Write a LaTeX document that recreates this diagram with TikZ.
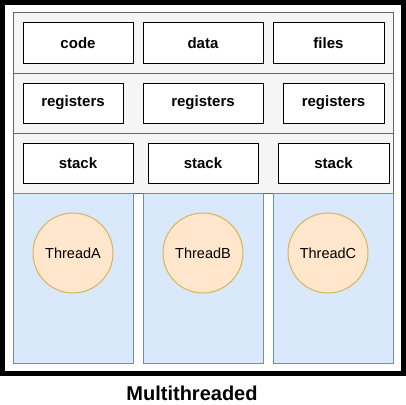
\documentclass[tikz,border=0pt]{standalone}
\usepackage{fontspec}
\setmainfont{Liberation Sans}
\usepackage{tikz}

\definecolor{procfill}{HTML}{F5F5F5}
\definecolor{procline}{HTML}{666666}
\definecolor{colfill}{HTML}{DAE8FC}
\definecolor{colline}{HTML}{6C8EBF}
\definecolor{thrfill}{HTML}{FFE6CC}
\definecolor{thrline}{HTML}{D6B656}

\begin{document}
\begin{tikzpicture}[x=1pt,y=-1pt]
        \tikzstyle{every node}+=[inner sep=0pt]
        \tikzstyle{part}=[draw=black, line width=1pt, fill=white, minimum height=40pt, font=\fontsize{15}{18}\selectfont\bfseries]
        \tikzstyle{thread}=[circle, draw=thrline, line width=1pt, fill=thrfill, minimum size=80pt, font=\fontsize{14.5}{17}\selectfont]
        \tikzstyle{column}=[draw=colline, line width=1pt, fill=colfill]
        \useasboundingbox (0,0) rectangle (406,404);
        \draw [black, line width=5pt] (2.5,2.5) rectangle (403.5,373);
        \draw [procline, fill=procfill, line width=1pt] (13,13) rectangle (393,193);
        \draw [procline, line width=1pt] (13,73) -- (393,73);
        \draw [procline, line width=1pt] (13,133) -- (393,133);
        \draw [column] (13,193) rectangle (133,363);
        \draw [column] (143,193) rectangle (263,363);
        \draw [column] (273,193) rectangle (393,363);
        \node [part, minimum width=110pt] (code) at (78,43) {code};
        \node [part, minimum width=120pt] (data) at (203,43) {data};
        \node [part, minimum width=111pt] (files) at (328.5,43) {files};
        \node [part, minimum width=100pt] (regA) at (73,103) {registers};
        \node [part, minimum width=120pt] (regB) at (203,103) {registers};
        \node [part, minimum width=101pt] (regC) at (333.5,103) {registers};
        \node [part, minimum width=110pt] (stackA) at (78,163) {stack};
        \node [part, minimum width=110pt] (stackB) at (203,163) {stack};
        \node [part, minimum width=111pt] (stackC) at (333.5,163) {stack};
        \node [thread] (threadA) at (73,253) {ThreadA};
        \node [thread] (threadB) at (203,253) {ThreadB};
        \node [thread] (threadC) at (328,253) {ThreadC};
        \node [font=\fontsize{20}{24}\selectfont\bfseries] (title) at (192,393) {Multithreaded};
    \end{tikzpicture}
\end{document}
